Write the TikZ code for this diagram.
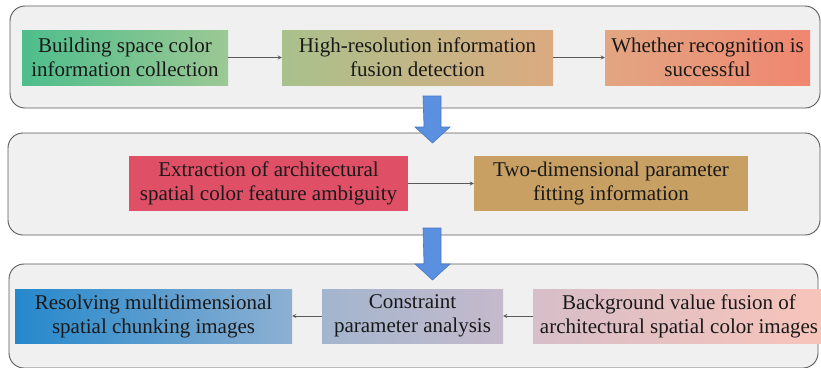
\documentclass[tikz,border=0pt]{standalone}
\usepackage{fontspec}
\setmainfont{Liberation Serif}
\usetikzlibrary{shapes.geometric, arrows, positioning}

\definecolor{panelfill}{HTML}{F0F0F0}
\definecolor{paneldraw}{HTML}{5A5A5A}
\definecolor{bigblue}{HTML}{5B8FE0}
\definecolor{bigblueline}{HTML}{4A78C0}
\definecolor{collectL}{HTML}{4DBE8C}
\definecolor{collectR}{HTML}{9CC894}
\definecolor{fusionL}{HTML}{A9C18C}
\definecolor{fusionR}{HTML}{DCAA80}
\definecolor{successL}{HTML}{E2A682}
\definecolor{successR}{HTML}{F08670}
\definecolor{ambigfill}{HTML}{DF4F66}
\definecolor{fittingfill}{HTML}{C9A063}
\definecolor{chunkL}{HTML}{2588CC}
\definecolor{chunkR}{HTML}{8DB0D2}
\definecolor{constrL}{HTML}{A3B5CE}
\definecolor{constrR}{HTML}{C5BACB}
\definecolor{backgrL}{HTML}{D7BEC8}
\definecolor{backgrR}{HTML}{F8C4BA}

\begin{document}
\begin{tikzpicture}[
    x=1pt, y=-1pt,
    panel/.style={rectangle, draw=paneldraw, line width=0.9pt, fill=panelfill, rounded corners=15pt},
    box/.style={rectangle, inner sep=0pt, minimum height=55pt, align=center, text=black!90,
                font=\rmfamily\fontsize{21}{24}\selectfont},
    arrow/.style={->, >=stealth, draw=black!65, line width=0.8pt},
    bigarrow/.style={fill=bigblue, draw=bigblueline, line width=0.6pt}
]
\useasboundingbox (0,0) rectangle (821,367);

% Panels
\node[panel, minimum width=810pt, minimum height=102pt] (row1) at (415,57) {};
\node[panel, minimum width=812pt, minimum height=102pt] (row2) at (414,184) {};
\node[panel, minimum width=809pt, minimum height=104pt] (row3) at (413.5,316) {};

% First row
\node[box, minimum width=206pt, left color=collectL, right color=collectR] (collect) at (125,57.5) {Building space color\\information collection};
\node[box, minimum width=271pt, left color=fusionL, right color=fusionR] (fusion) at (417.5,57.5) {High-resolution information\\fusion detection};
\node[box, minimum width=205pt, left color=successL, right color=successR] (success) at (707.5,57.5) {Whether recognition is\\successful};

\draw[arrow] (collect) -- (fusion);
\draw[arrow] (fusion) -- (success);

% Second row
\node[box, minimum width=279pt, fill=ambigfill] (ambig) at (268.5,183.5) {Extraction of architectural\\spatial color feature ambiguity};
\node[box, minimum width=274pt, fill=fittingfill] (fitting) at (611,183.5) {Two-dimensional parameter\\fitting information};

\draw[arrow] (ambig) -- (fitting);

% Third row
\node[box, minimum width=277pt, minimum height=54pt, left color=chunkL, right color=chunkR] (chunk) at (153.5,316) {Resolving multidimensional\\spatial chunking images};
\node[box, minimum width=181pt, minimum height=54pt, left color=constrL, right color=constrR] (constr) at (412.5,316) {Constraint\\parameter analysis};
\node[box, minimum width=292pt, minimum height=54pt, left color=backgrL, right color=backgrR] (backgr) at (679,316) {Background value fusion of\\architectural spatial color images};

\draw[arrow] (backgr) -- (constr);
\draw[arrow] (constr) -- (chunk);

% Block arrows between panels
\coordinate (down1) at (432,96);
\coordinate (down2) at (432,228);
\foreach \c/\len in {down1/31, down2/36}
  \draw[bigarrow] (\c) ++(-9,0) -- ++(18,0) -- ++(0,\len) -- ++(9,0) -- ++(-17.5,16) -- ++(-17.5,-16) -- ++(9,0) -- cycle;

\end{tikzpicture}
\end{document}
